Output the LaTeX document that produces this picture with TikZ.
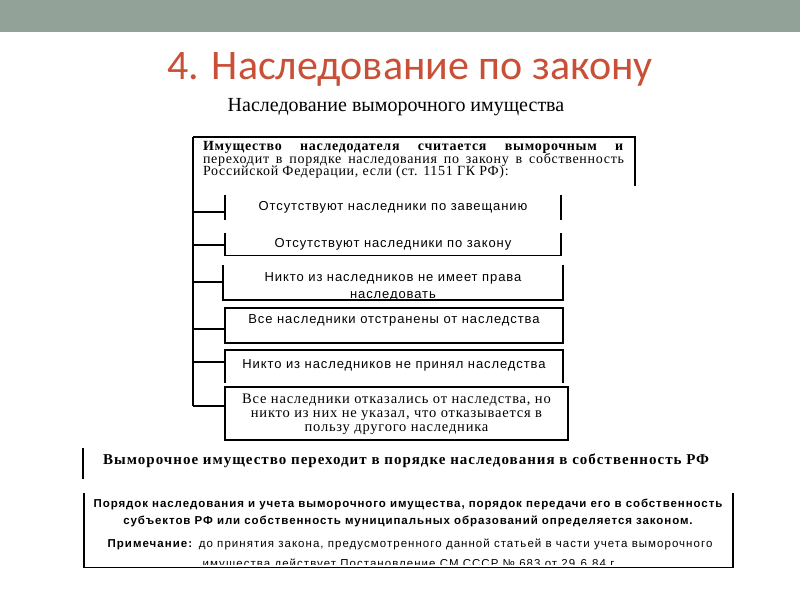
\documentclass[tikz,border=0pt]{standalone}
\usepackage{fontspec}
\setmainfont{Liberation Serif}
\setsansfont{Liberation Sans}
\newfontfamily\titlefont{Carlito}
\newfontfamily\subfont{Liberation Serif}
\newfontfamily\boxfont[LetterSpace=7]{Liberation Sans}
\newfontfamily\boxserif[LetterSpace=5.5]{Liberation Serif}
\newfontfamily\headserif[LetterSpace=5]{Liberation Serif}
\newfontfamily\bigserif[LetterSpace=6.7]{Liberation Serif}
\newfontfamily\notefont[LetterSpace=8]{Liberation Sans}
\newfontfamily\notefontb[LetterSpace=9]{Liberation Sans}
\newcommand\tightlines{\lineskiplimit=-10pt\relax}
\definecolor{band}{RGB}{147,162,153}
\definecolor{titlered}{RGB}{200,80,55}
\tikzset{
  frame/.style={line width=1.1pt, draw=black},
  boxnode/.style={inner sep=0pt, outer sep=0pt},
  sanstext/.style={font=\boxfont\fontsize{13}{14}\selectfont, align=center},
}
\begin{document}
\begin{tikzpicture}[x=1pt,y=-1pt]
\useasboundingbox (0,0) rectangle (800,600);
\fill[band] (0,0) rectangle (800,32);
\node[text=titlered, font=\titlefont\fontsize{42}{44}\selectfont] (title) at (410,69) {4. Наследование по закону};
\node[font=\subfont\fontsize{20}{22}\selectfont] (sub) at (396,107) {Наследование выморочного имущества};

% main box
\node[boxnode, minimum width=442pt, minimum height=49pt] (b1) at (414,161.5) {};
\node[boxnode, text width=421pt, align=justify, font=\headserif\fontsize{14}{12.5}\selectfont\tightlines] (b1t) at (413.5,160)
 {\textbf{Имущество наследодателя считается выморочным и}\linebreak переходит в порядке наследования по закону в собственность\linebreak Российской Федерации, если (ст. 1151 ГК РФ):};
\draw[frame] (b1.south east) -- (b1.north east) -- (b1.north west);

% items
\node[boxnode, minimum width=336pt, minimum height=25pt, sanstext] (A) at (393,207.5) {Отсутствуют наследники по завещанию};
\node[boxnode, minimum width=336pt, minimum height=23pt, sanstext] (B) at (393,244) {Отсутствуют наследники по закону};
\node[boxnode, minimum width=340pt, minimum height=35pt] (C) at (393,282.5) {};
\node[sanstext, font=\boxfont\fontsize{13}{17}\selectfont] (Ct) at (393,287) {Никто из наследников не имеет права\\наследовать};
\node[boxnode, minimum width=338pt, minimum height=35pt] (D) at (394,325.5) {};
\node[sanstext] (Dt) at (394,320) {Все наследники отстранены от наследства};
\node[boxnode, minimum width=338pt, minimum height=33pt] (E) at (394,366.5) {};
\node[sanstext] (Et) at (394,365.5) {Никто из наследников не принял наследства};
\node[boxnode, minimum width=343pt, minimum height=53pt] (F) at (396.5,413.5) {};
\node[font=\boxserif\fontsize{14.5}{14}\selectfont, align=center] (Ft) at (396.5,414)
 {Все наследники отказались от наследства, но\\никто из них не указал, что отказывается в\\пользу другого наследника};

\draw[frame] (A.north west) -- (A.south west);
\draw[frame] (A.north east) -- (A.south east);
\draw[frame] (B.north west) -- (B.south west) -- (B.south east) -- (B.north east);
\draw[frame] (C.north west) -- (C.south west) -- (C.south east) -- (C.north east);
\draw[frame] (D.north west) rectangle (D.south east);
\draw[frame] (E.south west) -- (E.north west) -- (E.north east) -- (E.south east);
\draw[frame] (F.north west) rectangle (F.south east);

% bracket
\coordinate (t1) at (193,212);
\coordinate (t2) at (193,245);
\coordinate (t3) at (193,282);
\coordinate (t4) at (193,329);
\coordinate (t5) at (193,362);
\coordinate (t6) at (193,406);
\draw[frame] (b1.north west) -- (t6);
\draw[frame] (t1) -- (t1 -| A.west);
\draw[frame] (t2) -- (t2 -| B.west);
\draw[frame] (t3) -- (t3 -| C.west);
\draw[frame] (t4) -- (t4 -| D.west);
\draw[frame] (t5) -- (t5 -| E.west);
\draw[frame] (t6) -- (t6 -| F.west);

% bottom statement
\node[boxnode, minimum width=1pt, minimum height=31pt] (G) at (83,463.5) {};
\draw[frame] (G.north) -- (G.south);
\node[anchor=west, inner sep=0pt, font=\bigserif\bfseries\fontsize{15}{16}\selectfont] (Gt) at (103,461)
 {Выморочное имущество переходит в порядке наследования в собственность РФ};

% bottom box
\node[boxnode, minimum width=649pt, minimum height=75pt] (H) at (408.5,530) {};
\draw[frame] (H.north west) -- (H.south west) -- (H.south east) -- (H.north east);
\node[font=\notefont\bfseries\fontsize{11.5}{17}\selectfont, align=center] (H1) at (408,512.5)
 {Порядок наследования и учета выморочного имущества, порядок передачи его в собственность\\субъектов РФ или собственность муниципальных образований определяется законом.};
\node[font=\notefontb\fontsize{11.5}{13}\selectfont] (H2) at (410,544.5)
 {\textbf{Примечание:} до принятия закона, предусмотренного данной статьей в части учета выморочного};
\begin{scope}
\clip (90,550) rectangle (730,564);
\node[font=\notefontb\fontsize{11.5}{13}\selectfont] (H3) at (410,564)
 {имущества действует Постановление СМ СССР № 683 от 29.6.84 г.};
\end{scope}
\end{tikzpicture}
\end{document}
